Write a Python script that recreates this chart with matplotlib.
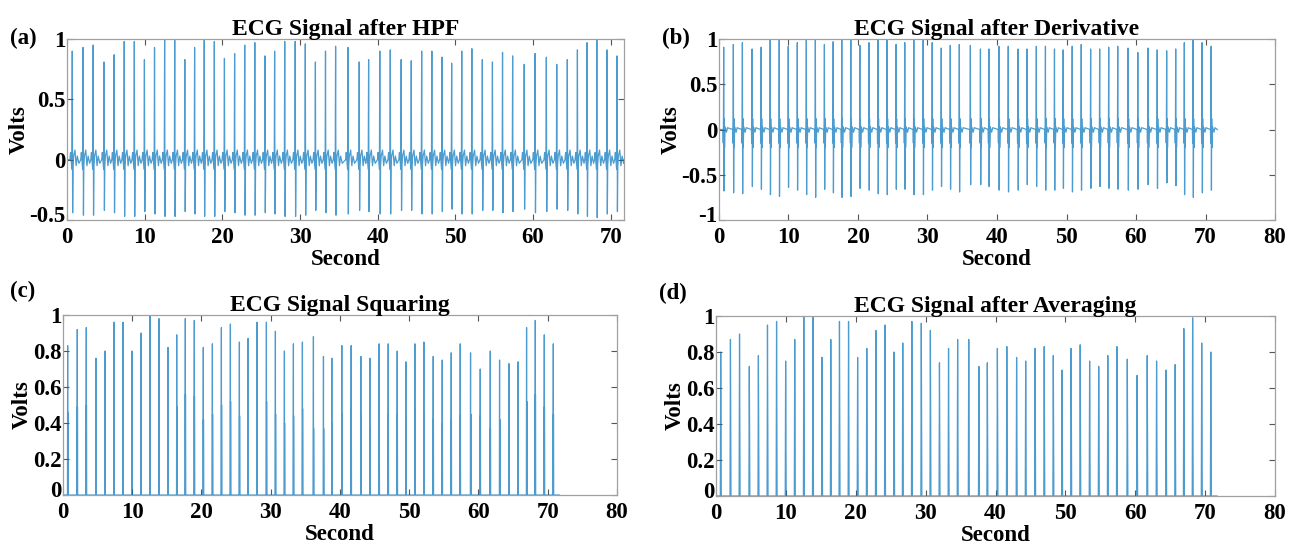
import numpy as np
import matplotlib.pyplot as plt
import matplotlib.transforms as mtransforms

plt.rcParams['font.family'] = ['Liberation Serif', 'DejaVu Serif']
plt.rcParams['font.weight'] = 'bold'

# beat (R-peak) times in seconds
beat_t = [0.68, 2.07, 3.37, 4.77, 6.07, 7.37, 8.67, 9.97, 11.27, 12.57, 13.87, 15.17,
          16.43, 17.67, 18.97, 20.27, 21.58, 22.88, 24.18, 25.48, 26.73, 28.03, 29.38,
          30.68, 31.98, 33.28, 34.58, 36.17, 37.62, 38.83, 40.27, 41.62, 43.02, 44.32,
          45.66, 46.97, 48.27, 49.52, 50.82, 52.12, 53.47, 54.77, 56.07, 57.37, 58.86,
          60.26, 61.71, 63.05, 64.41, 65.71, 66.95, 68.21, 69.51, 70.81]

# (a) after HPF
a_peak = [0.90, 0.93, 0.95, 0.81, 0.87, 0.98, 0.98, 0.83, 0.93, 1.0, 0.99, 0.83, 0.93, 0.99,
          0.98, 0.84, 0.88, 0.95, 0.97, 0.86, 0.90, 0.98, 0.98, 0.96, 0.81, 0.90, 0.94, 0.93,
          0.81, 0.83, 0.90, 0.91, 0.83, 0.82, 0.90, 0.90, 0.85, 0.80, 0.90, 0.92, 0.83, 0.81,
          0.89, 0.86, 0.79, 0.88, 0.85, 0.79, 0.83, 0.91, 0.97, 1.0, 0.91, 0.86]
a_trough = [-0.44, -0.46, -0.46, -0.42, -0.44, -0.47, -0.47, -0.43, -0.45, -0.47, -0.47, -0.43,
            -0.45, -0.47, -0.47, -0.43, -0.44, -0.46, -0.46, -0.44, -0.45, -0.47, -0.47, -0.46,
            -0.42, -0.44, -0.46, -0.45, -0.42, -0.43, -0.45, -0.45, -0.42, -0.42, -0.45, -0.45,
            -0.43, -0.41, -0.45, -0.45, -0.42, -0.42, -0.44, -0.43, -0.41, -0.44, -0.43, -0.41,
            -0.42, -0.45, -0.47, -0.48, -0.45, -0.43]

# (b) after derivative
b_peak = [0.91, 0.94, 0.96, 0.89, 0.91, 0.99, 1.0, 0.92, 0.96, 1.0, 1.0, 0.94, 0.97, 1.0,
          1.0, 0.93, 0.96, 0.99, 0.99, 0.94, 0.96, 0.99, 0.99, 0.96, 0.90, 0.93, 0.94, 0.93,
          0.89, 0.89, 0.92, 0.92, 0.89, 0.89, 0.92, 0.92, 0.89, 0.88, 0.92, 0.94, 0.89, 0.89,
          0.91, 0.92, 0.90, 0.85, 0.90, 0.88, 0.87, 0.89, 0.96, 0.99, 0.96, 0.92]
b_trough = [-0.68, -0.70, -0.71, -0.63, -0.66, -0.72, -0.74, -0.64, -0.67, -0.72, -0.75, -0.66,
            -0.70, -0.75, -0.74, -0.65, -0.67, -0.71, -0.72, -0.66, -0.66, -0.72, -0.72, -0.67,
            -0.63, -0.66, -0.69, -0.61, -0.61, -0.63, -0.67, -0.69, -0.67, -0.61, -0.63, -0.67,
            -0.67, -0.65, -0.69, -0.67, -0.65, -0.63, -0.65, -0.66, -0.67, -0.66, -0.61, -0.65,
            -0.59, -0.62, -0.72, -0.75, -0.70, -0.67]

# (c) squaring
c_peak = [0.83, 0.92, 0.93, 0.76, 0.80, 0.96, 0.96, 0.80, 0.90, 1.0, 0.98, 0.82, 0.89, 0.98,
          0.97, 0.82, 0.84, 0.93, 0.95, 0.85, 0.87, 0.96, 0.96, 0.91, 0.80, 0.84, 0.85, 0.88,
          0.77, 0.76, 0.83, 0.83, 0.77, 0.76, 0.84, 0.84, 0.80, 0.74, 0.84, 0.85, 0.77, 0.75,
          0.79, 0.84, 0.79, 0.70, 0.80, 0.75, 0.73, 0.74, 0.93, 0.97, 0.89, 0.84]
c_lobe = [0.46, 0.49, 0.50, 0.40, 0.44, 0.52, 0.55, 0.41, 0.45, 0.52, 0.56, 0.44, 0.49, 0.56,
          0.55, 0.42, 0.45, 0.50, 0.52, 0.44, 0.44, 0.52, 0.52, 0.45, 0.40, 0.44, 0.48, 0.37,
          0.37, 0.40, 0.45, 0.48, 0.45, 0.37, 0.40, 0.45, 0.45, 0.42, 0.48, 0.45, 0.42, 0.40,
          0.42, 0.44, 0.45, 0.44, 0.37, 0.42, 0.35, 0.38, 0.52, 0.56, 0.49, 0.45]

# (d) after averaging
d_peak = [0.80, 0.87, 0.90, 0.72, 0.78, 0.95, 0.97, 0.75, 0.87, 1.0, 1.0, 0.77, 0.87, 0.97,
          0.97, 0.77, 0.82, 0.92, 0.95, 0.80, 0.85, 0.97, 0.96, 0.92, 0.74, 0.82, 0.87, 0.87,
          0.72, 0.74, 0.82, 0.83, 0.77, 0.75, 0.82, 0.83, 0.78, 0.70, 0.82, 0.84, 0.75, 0.72,
          0.78, 0.83, 0.76, 0.67, 0.78, 0.75, 0.70, 0.73, 0.93, 0.99, 0.85, 0.80]

t_end = 71.7
line_color = '#0072BD'


def trace(shape_fn):
    x, y = [0.0], [0.0]
    for i, t in enumerate(beat_t):
        for dt, v in shape_fn(i):
            x.append(t + dt)
            y.append(v)
    x.append(t_end)
    y.append(0.0)
    return x, y


def shape_a(i):
    return [(-0.30, 0.0), (-0.22, 0.06), (-0.12, -0.02), (-0.05, -0.08), (0.0, a_peak[i]),
            (0.04, -0.35), (0.05, a_trough[i]), (0.10, -0.05), (0.18, 0.03), (0.35, 0.08),
            (0.50, -0.05), (0.65, 0.03), (0.85, -0.03)]


def shape_b(i):
    return [(-0.10, 0.0), (-0.06, -0.15), (-0.03, 0.15), (0.0, b_peak[i]), (0.04, b_trough[i]),
            (0.08, 0.12), (0.12, -0.2), (0.2, 0.03), (0.4, -0.03), (0.55, 0.02)]


def shape_c(i):
    return [(-0.03, 0.0), (0.0, c_peak[i]), (0.015, 0.0), (0.025, c_lobe[i]), (0.05, 0.0)]


def shape_d(i):
    return [(-0.06, 0.0), (0.0, d_peak[i]), (0.08, 0.0)]


fig = plt.figure(figsize=(12.98, 5.45), dpi=100)

fs = 16.5
panels = [
    ([0.0516, 0.5963, 0.4291, 0.3321], shape_a, 'ECG Signal after HPF', (0, t_end), (-0.5, 1),
     [-0.5, 0, 0.5, 1], ['-0.5', '0', '0.5', '1'], [0, 10, 20, 30, 40, 50, 60, 70]),
    ([0.5539, 0.5963, 0.4284, 0.3321], shape_b, 'ECG Signal after Derivative', (0, 80), (-1, 1),
     [-1, -0.5, 0, 0.5, 1], ['-1', '-0.5', '0', '0.5', '1'], [0, 10, 20, 30, 40, 50, 60, 70, 80]),
    ([0.0485, 0.0917, 0.4268, 0.3303], shape_c, 'ECG Signal Squaring', (0, 80), (0, 1),
     [0, 0.2, 0.4, 0.6, 0.8, 1], ['0', '0.2', '0.4', '0.6', '0.8', '1'],
     [0, 10, 20, 30, 40, 50, 60, 70, 80]),
    ([0.5516, 0.0899, 0.4307, 0.3303], shape_d, 'ECG Signal after Averaging', (0, 80), (0, 1),
     [0, 0.2, 0.4, 0.6, 0.8, 1], ['0', '0.2', '0.4', '0.6', '0.8', '1'],
     [0, 10, 20, 30, 40, 50, 60, 70, 80]),
]

for rect, fn, title, xl, yl, yt, ytl, xt in panels:
    ax = fig.add_axes(rect)
    x, y = trace(fn)
    ax.plot(x, y, color=line_color, lw=0.9, alpha=0.7)
    ax.set_xlim(*xl)
    ax.set_ylim(*yl)
    ax.set_xticks(xt)
    ax.set_xticklabels([str(v) for v in xt])
    ax.set_yticks(yt)
    ax.set_yticklabels(ytl)
    ax.tick_params(direction='in', top=True, right=True, length=4, width=0.8,
                   color='#555555', labelsize=fs)
    ax.tick_params(axis='y', pad=1)
    ax.tick_params(axis='x', pad=5)
    # MATLAB keeps the lowest y label a little above the x labels
    lab = ax.get_yticklabels()[0]
    lab.set_transform(lab.get_transform() +
                      mtransforms.ScaledTranslation(0, 4 / 72, fig.dpi_scale_trans))
    for s in ax.spines.values():
        s.set_color('#a0a0a0')
        s.set_linewidth(0.9)
    ax.set_title(title, fontsize=17, fontweight='bold', pad=3)
    ax.set_xlabel('Second', fontsize=fs, fontweight='bold', labelpad=0.5)
    ax.set_ylabel('Volts', fontsize=fs, fontweight='bold', labelpad=0)

fig.text(0.0077, 0.93, '(a)', fontsize=fs, fontweight='bold', va='center')
fig.text(0.510, 0.93, '(b)', fontsize=fs, fontweight='bold', va='center')
fig.text(0.0077, 0.466, '(c)', fontsize=fs, fontweight='bold', va='center')
fig.text(0.508, 0.462, '(d)', fontsize=fs, fontweight='bold', va='center')

fig.savefig('out.png', dpi=100)
